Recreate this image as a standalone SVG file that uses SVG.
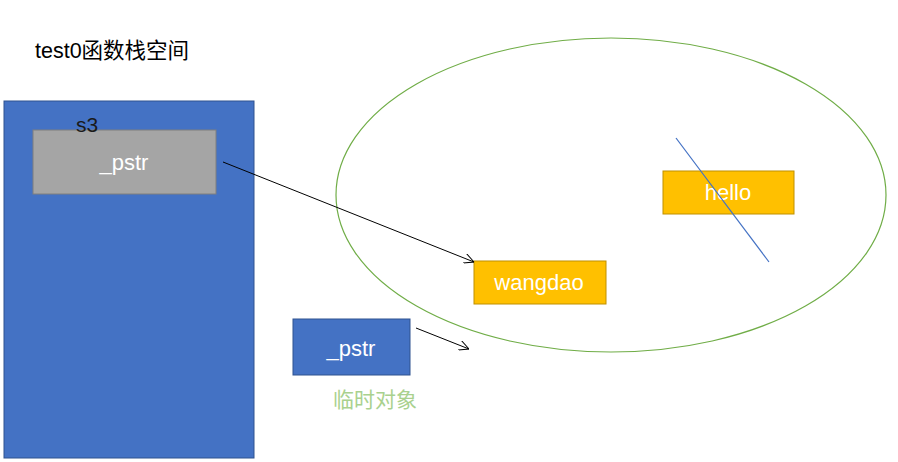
<svg xmlns="http://www.w3.org/2000/svg" width="898" height="462" viewBox="0 0 898 462">
<style>
text{font-family:"Liberation Sans","Noto Sans CJK SC",sans-serif;font-size:21px}
.w{fill:#fff;text-anchor:middle;font-size:22px}
.blue{fill:#4472C4;stroke:#2F528F;stroke-width:1}
.gold{fill:#FFC000;stroke:#BF9000;stroke-width:1}
.con{stroke:#000;stroke-width:1;fill:none;marker-end:url(#ah)}
</style>
<defs>
<marker id="ah" viewBox="0 0 10 10" refX="10" refY="5" markerWidth="10" markerHeight="10" markerUnits="userSpaceOnUse" orient="auto">
<path d="M0,0 L10,5 L0,10" fill="none" stroke="#000" stroke-width="1"/>
</marker>
</defs>
<rect width="898" height="462" fill="#fff"/>
<text x="35" y="58" fill="#000" style="font-size:21.5px">test0函数栈空间</text>
<g id="stack">
<rect class="blue" x="4" y="101" width="250" height="357"/>
</g>
<g id="pstr1">
<rect x="33" y="130" width="183" height="64" fill="#A5A5A5" stroke="#7F7F7F"/>
<text class="w" x="124" y="170">_pstr</text>
</g>
<text id="s3" x="76" y="132" fill="#1a1a1a">s3</text>
<g id="heap">
<ellipse cx="611" cy="195" rx="275" ry="157" fill="none" stroke="#70AD47" stroke-width="1.2"/>
</g>
<g id="wangdao">
<rect class="gold" x="474" y="261" width="132" height="43"/>
<text class="w" x="539" y="290">wangdao</text>
</g>
<g id="hello">
<rect class="gold" x="663" y="171" width="131" height="43"/>
<text class="w" x="728" y="200">hello</text>
</g>
<g id="strike">
<line x1="676" y1="138" x2="769" y2="262" stroke="#4472C4" stroke-width="1.2"/>
</g>
<g id="pstr2">
<rect class="blue" x="293" y="319" width="117" height="56"/>
<text class="w" x="351" y="356">_pstr</text>
</g>
<text id="tmp" x="333" y="407" fill="#A9D18E">临时对象</text>
<g id="connectors">
<line class="con" x1="223" y1="162" x2="474" y2="262"/>
<line class="con" x1="416" y1="328" x2="469" y2="349"/>
</g>
</svg>
